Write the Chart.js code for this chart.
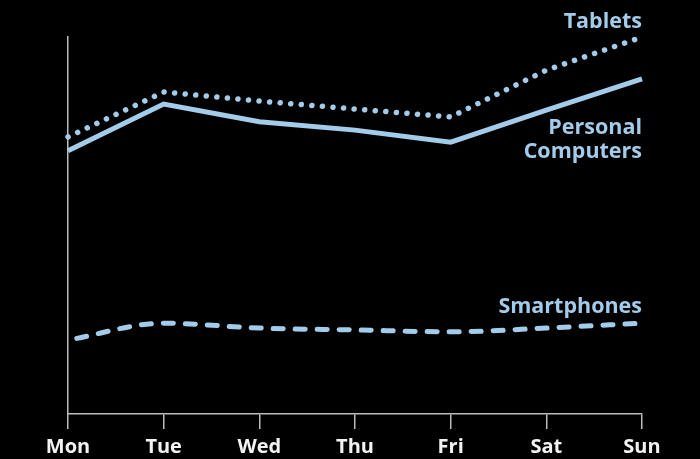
<!DOCTYPE html>
<html>
<head>
<meta charset="utf-8">
<script src="https://cdn.jsdelivr.net/npm/chart.js@4"></script>
<style>
    html, body { margin: 0; padding: 0; background: #000; }
    #wrap { width: 700px; height: 459px; }
</style>
</head>
<body>
<div id="wrap"><canvas id="myChart"></canvas></div>
<script>
const days = ['Mon', 'Tue', 'Wed', 'Thu', 'Fri', 'Sat', 'Sun'];
const tablets = [73.5, 85.4, 83.0, 80.9, 78.8, 91.2, 100];
const computers = [69.8, 82.2, 77.5, 75.3, 72.1, 80.6, 88.9];
const smartphones = [19.6, 24.1, 22.8, 22.3, 21.8, 22.8, 24.1];

const lineColor = '#a3cbea';
const axisColor = '#bbbbbb';
const fontName = '"Open Sans", sans-serif';

// series names written next to the last point of each line
const endLabels = {
    id: 'endLabels',
    afterDatasetsDraw(chart) {
        const ctx = chart.ctx;
        const y = chart.scales.y;
        const right = chart.chartArea.right;
        ctx.save();
        ctx.fillStyle = lineColor;
        ctx.font = 'bold 21.5px ' + fontName;
        ctx.textAlign = 'right';
        ctx.textBaseline = 'middle';
        chart.data.datasets.forEach((ds) => {
            const last = y.getPixelForValue(ds.data[ds.data.length - 1]);
            ds.labelLines.forEach((txt, i) => {
                ctx.fillText(txt, right, last + ds.labelShift + i * 24);
            });
        });
        ctx.restore();
    }
};

function loadChart(id) {
    const ctx = document.getElementById(id);

    new Chart(ctx, {
        type: 'line',
        data: {
            labels: days,
            datasets: [{
                data: tablets,
                borderColor: lineColor,
                borderWidth: 5.5,
                borderDash: [0.1, 10.5],
                borderCapStyle: 'round',
                tension: 0,
                labelLines: ['Tablets'],
                labelShift: -15
            }, {
                data: computers,
                borderColor: lineColor,
                borderWidth: 5,
                tension: 0,
                labelLines: ['Personal', 'Computers'],
                labelShift: 49.5
            }, {
                data: smartphones,
                borderColor: lineColor,
                borderWidth: 5,
                borderDash: [10, 12],
                borderDashOffset: 13,
                borderCapStyle: 'round',
                cubicInterpolationMode: 'monotone',
                labelLines: ['Smartphones'],
                labelShift: -16.5
            }]
        },
        options: {
            responsive: true,
            maintainAspectRatio: false,
            animation: false,
            clip: false,
            layout: { padding: { left: 68, right: 58, top: 37, bottom: 0 } },
            elements: { point: { radius: 0 } },
            plugins: { legend: { display: false }, tooltip: { enabled: false } },
            scales: {
                x: {
                    offset: false,
                    border: { color: axisColor, width: 1.5 },
                    grid: {
                        drawOnChartArea: false,
                        drawTicks: true,
                        tickLength: 15,
                        color: axisColor,
                        lineWidth: 1.5
                    },
                    ticks: {
                        color: '#f2f2f2',
                        font: { family: fontName, size: 20, weight: 'bold' },
                        padding: 6,
                        maxRotation: 0
                    },
                    afterFit(scale) { scale.height = 45; }
                },
                y: {
                    min: 0,
                    max: 100,
                    border: { color: axisColor, width: 1.5 },
                    grid: { display: false },
                    ticks: { display: false },
                    afterFit(scale) { scale.width = 0; }
                }
            }
        },
        plugins: [endLabels]
    });
}

loadChart('myChart');
</script>
</body>
</html>
